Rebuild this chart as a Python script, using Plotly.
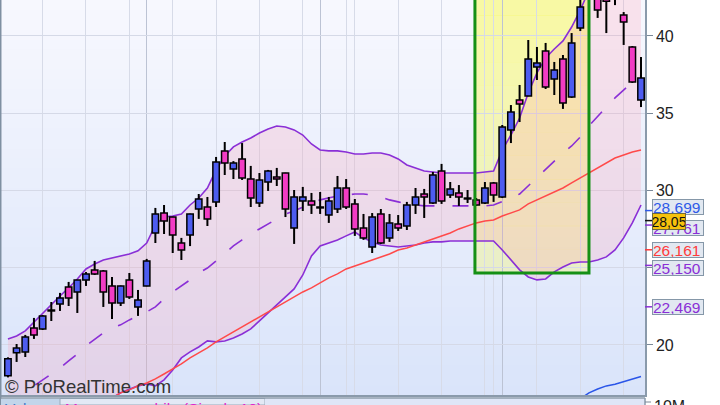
import plotly.graph_objects as go

# ---------------- data ----------------
idx = list(range(74))

opens = [18.0, 19.5, 19.55, 21.1, 21.04, 22.2, 22.65, 23.75, 23.43, 24.2,
         24.85, 24.79, 23.82, 22.72, 24.2, 22.46, 23.82, 27.25, 28.54, 28.28,
         26.6, 27.12, 28.8, 28.93, 29.26, 32.56, 31.39, 32.04, 30.74, 29.19,
         30.55, 30.87, 31.13, 27.57, 29.32, 29.32, 28.87, 28.41, 28.8, 30.16,
         29.13, 27.57, 26.34, 28.48, 26.93, 27.83, 27.7, 29.06, 29.77, 29.19,
         31.26, 29.71, 29.84, 29.45, 29.39, 29.19, 30.49, 29.58, 33.92, 35.86,
         36.12, 37.99, 39.03, 37.22, 38.51, 36.05, 40.52, 42.5, 42.9, 42.9,
         42.7, 41.36, 39.29, 35.86]
highs = [19.2, 20.06, 20.65, 21.75, 21.94, 22.78, 23.37, 24.08, 24.2, 24.72,
         25.44, 24.85, 24.4, 23.85, 24.66, 23.56, 25.57, 28.87, 29.06, 28.3,
         26.93, 28.5, 29.77, 29.58, 32.17, 33.14, 31.9, 33.07, 31.59, 31.13,
         31.33, 31.46, 31.15, 30.03, 30.23, 29.84, 29.9, 29.58, 30.94, 30.74,
         29.45, 28.48, 28.54, 28.8, 28.48, 28.41, 29.26, 30.16, 30.1, 31.2,
         31.72, 30.55, 30.35, 30.03, 29.51, 30.55, 30.55, 34.24, 35.53, 36.83,
         39.74, 39.29, 39.55, 38.32, 38.77, 40.19, 42.6, 43.8, 43.5, 43.4,
         43.3, 41.55, 39.35, 38.64]
lows = [17.9, 18.9, 19.22, 20.39, 20.97, 21.55, 22.2, 22.52, 22.07, 23.82,
        24.53, 22.46, 21.68, 22.52, 22.98, 21.88, 23.8, 26.6, 27.18, 25.95,
        25.5, 26.4, 28.16, 27.7, 28.93, 31.0, 30.74, 30.68, 28.93, 28.93,
        29.97, 30.29, 28.28, 26.54, 28.67, 28.48, 28.48, 27.9, 28.54, 28.8,
        27.06, 26.8, 25.95, 26.54, 26.67, 27.38, 27.44, 28.48, 28.22, 29.13,
        29.13, 29.51, 29.0, 29.19, 29.0, 29.13, 29.26, 29.51, 33.07, 34.43,
        36.1, 37.15, 36.57, 36.18, 35.28, 35.99, 40.32, 41.9, 41.17, 40.19,
        42.0, 39.42, 36.96, 35.4]
closes = [19.1, 19.8, 20.52, 20.65, 21.88, 22.22, 23.04, 23.04, 24.2, 24.6,
          24.6, 23.43, 22.72, 23.82, 23.1, 22.91, 25.44, 28.48, 28.03, 27.12,
          26.15, 28.48, 29.45, 28.16, 31.84, 31.78, 31.78, 30.81, 29.51, 30.68,
          31.26, 30.74, 28.8, 29.58, 29.58, 29.06, 28.89, 29.32, 30.16, 28.93,
          27.51, 26.93, 28.28, 26.6, 27.9, 27.57, 29.06, 29.58, 29.58, 31.0,
          29.32, 30.1, 29.58, 29.47, 29.06, 30.16, 29.71, 34.11, 35.08, 35.6,
          38.51, 38.25, 36.7, 37.8, 35.66, 39.55, 41.88, 43.4, 41.68, 42.25,
          43.2, 40.9, 37.02, 37.28]

bb_upper = [20.39, 20.58, 20.91, 21.49, 22.01, 22.59, 23.17, 23.69, 24.27, 24.92,
            25.24, 25.50, 25.63, 25.76, 25.89, 26.09, 26.60, 27.77, 28.29, 28.35,
            28.48, 29.06, 29.51, 30.16, 31.33, 32.23, 32.82, 33.14, 33.40, 33.72,
            33.98, 34.17, 34.11, 33.92, 33.59, 33.01, 32.62, 32.56, 32.56, 32.49,
            32.36, 32.36, 32.43, 32.43, 32.30, 32.04, 31.65, 31.46, 31.26, 31.20,
            31.13, 31.13, 31.13, 31.13, 31.13, 31.20, 31.26, 32.62, 33.59, 34.69,
            36.31, 37.61, 38.58, 39.16, 39.68, 40.58, 41.68, 42.98, 44.01, 45.11,
            45.82, 46.08, 46.15, 45.76]
bb_mid = [16.12, 16.51, 16.96, 17.35, 17.74, 18.12, 18.51, 18.97, 19.42, 19.94,
          20.39, 20.78, 21.10, 21.30, 21.62, 21.88, 22.14, 22.46, 22.98, 23.43,
          23.82, 24.21, 24.66, 24.98, 25.44, 25.95, 26.41, 26.80, 27.19, 27.51,
          27.83, 28.16, 28.48, 28.67, 28.93, 29.19, 29.39, 29.51, 29.64, 29.71,
          29.77, 29.77, 29.71, 29.58, 29.39, 29.26, 29.13, 29.06, 29.00, 29.00,
          29.00, 29.00, 29.00, 29.00, 29.00, 29.00, 29.06, 29.26, 29.51, 29.77,
          30.29, 30.87, 31.33, 31.91, 32.43, 32.88, 33.46, 34.18, 34.76, 35.40,
          35.99, 36.51, 37.02, 37.41]
bb_lower = [11.85, 12.43, 13.01, 13.21, 13.46, 13.66, 13.85, 14.24, 14.57, 14.95,
            15.54, 16.05, 16.57, 16.90, 17.15, 17.35, 17.48, 17.35, 17.74, 18.38,
            19.16, 19.55, 19.87, 20.26, 20.20, 20.26, 20.45, 20.71, 21.04, 21.55,
            22.07, 22.59, 23.11, 23.63, 24.53, 25.76, 26.41, 26.60, 26.80, 27.06,
            27.31, 26.93, 26.67, 26.47, 26.41, 26.34, 26.41, 26.47, 26.60, 26.67,
            26.67, 26.73, 26.73, 26.73, 26.73, 26.73, 26.73, 26.15, 25.50, 24.86,
            24.40, 24.21, 24.27, 24.73, 25.05, 25.31, 25.37, 25.37, 25.50, 25.70,
            26.15, 26.93, 27.90, 29.06]
ma_red = [None] * 12 + [
    16.55, 16.90, 17.09, 17.35, 17.54, 17.80, 18.12, 18.45,
    18.77, 19.16, 19.49, 19.81, 20.20, 20.52, 20.84, 21.17, 21.49, 21.81,
    22.14, 22.46, 22.78, 23.11, 23.43, 23.69, 24.01, 24.34, 24.60, 24.92,
    25.11, 25.31, 25.50, 25.70, 25.89, 26.15, 26.28, 26.47, 26.67, 26.86,
    27.06, 27.25, 27.51, 27.70, 27.90, 28.03, 28.09, 28.35, 28.54, 28.74,
    29.13, 29.39, 29.64, 29.90, 30.16, 30.49, 30.81, 31.13, 31.46, 31.78,
    32.10, 32.30, 32.49, 32.62]
ma_blue = [None] * 66 + [16.51, 16.90, 17.15, 17.35, 17.45, 17.61, 17.80, 17.96]

week_grid = [4, 9, 14, 19, 24, 29, 34, 39, 40, 45, 50, 55, 56, 61, 66, 71]
month_grid = [16, 36, 57]
price_ticks = [20, 25, 30, 35, 40]

zone_start, zone_end, zone_low = 53.85, 67.0, 24.66

label_values = [22.469, 25.150, 26.161, 27.761, 28.699, 28.05]
label_texts = ["22,469", "25,150", "26,161", "27,761", "28,699", "28,05"]
label_colors = ["#8a2fd6", "#8a2fd6", "#ff3b3b", "#8a2fd6", "#2f5ae8", "#111111"]
label_shift = [0, -3, 0, -3, 4, -1]

# ---------------- styles ----------------
FONT = "Liberation Sans, Arial, sans-serif"
BLUE_BODY = "#4d5cf0"
PINK_BODY = "#f23cc4"
PURPLE = "#8a2fd6"
X_RANGE = [-0.8, 73.46]
Y_RANGE = [16.76, 42.33]
PLOT_W, PLOT_H = 644, 395

fig = go.Figure()

# Bollinger bands + averages (base subplot, under the candles)
fig.add_trace(go.Scatter(x=idx, y=bb_lower, mode="lines",
                         line=dict(color=PURPLE, width=1.6), hoverinfo="skip"))
fig.add_trace(go.Scatter(x=idx, y=bb_upper, mode="lines",
                         line=dict(color=PURPLE, width=1.6), fill="tonexty",
                         fillcolor="rgba(255,150,175,0.22)", hoverinfo="skip"))
fig.add_trace(go.Scatter(x=idx, y=bb_mid, mode="lines",
                         line=dict(color=PURPLE, width=1.6, dash="16px,18px"),
                         hoverinfo="skip"))
fig.add_trace(go.Scatter(x=idx, y=ma_red, mode="lines",
                         line=dict(color="#ff4a4a", width=1.5), hoverinfo="skip"))
fig.add_trace(go.Scatter(x=idx, y=ma_blue, mode="lines",
                         line=dict(color="#2a55e8", width=1.5), hoverinfo="skip"))

# Candles (overlay subplot, drawn above the indicator lines)
body_base = [min(o, c) for o, c in zip(opens, closes)]
body_h = [max(abs(c - o), 0.06) for o, c in zip(opens, closes)]
body_col = [BLUE_BODY if c > o + 0.03 else (PINK_BODY if c < o - 0.03 else "black")
            for o, c in zip(opens, closes)]
wick_x, wick_y = [], []
for i, o, h, l, c in zip(idx, opens, highs, lows, closes):
    wick_x += [i, i, None, i, i, None]
    wick_y += [h, max(o, c), None, min(o, c), l, None]

fig.add_trace(go.Scatter(x=wick_x, y=wick_y, mode="lines",
                         line=dict(color="black", width=2),
                         xaxis="x2", yaxis="y2", hoverinfo="skip"))
fig.add_trace(go.Bar(x=idx, y=body_h, base=body_base, width=0.74,
                     marker=dict(color=body_col, line=dict(color="black", width=1.5)),
                     xaxis="x2", yaxis="y2", hoverinfo="skip"))

shapes = []
# background vertical gradient
n = 40
top_c, bot_c = (247, 248, 254), (218, 228, 250)
for k in range(n):
    t = k / (n - 1)
    col = tuple(round(bot_c[j] + (top_c[j] - bot_c[j]) * t) for j in range(3))
    shapes.append(dict(type="rect", xref="paper", yref="paper", x0=0, x1=1,
                       y0=k / n, y1=(k + 1) / n + 0.002, layer="below",
                       line=dict(width=0), fillcolor="rgb(%d,%d,%d)" % col))
# highlighted zone: yellow gradient fill
m = 12
zone_top = Y_RANGE[1] + 0.5
for k in range(m):
    y0 = zone_low + (zone_top - zone_low) * k / m
    y1 = zone_low + (zone_top - zone_low) * (k + 1) / m + 0.02
    a = 0.30 + 0.22 * k / (m - 1)
    shapes.append(dict(type="rect", xref="x", yref="y", x0=zone_start, x1=zone_end,
                       y0=y0, y1=y1, layer="below", line=dict(width=0),
                       fillcolor="rgba(250,250,80,%.3f)" % a))
shapes.append(dict(type="rect", xref="x", yref="y", x0=zone_start, x1=zone_end,
                   y0=zone_low, y1=zone_top + 1, layer="above",
                   line=dict(color="#159015", width=3), fillcolor="rgba(0,0,0,0)"))
# left border
shapes.append(dict(type="line", xref="paper", yref="paper", x0=-0.0008, x1=-0.0008,
                   y0=-0.03, y1=1, line=dict(color="#7f90a2", width=2), layer="above"))
# bottom (volume panel) strip
py = lambda px: (PLOT_H - px) / PLOT_H
pxx = lambda px: (px - 1) / PLOT_W
shapes.append(dict(type="rect", xref="paper", yref="paper", x0=0, x1=pxx(60),
                   y0=py(405), y1=py(398.5), line=dict(width=0), fillcolor="#c3d5ea"))
shapes.append(dict(type="rect", xref="paper", yref="paper", x0=pxx(60), x1=pxx(265),
                   y0=py(405), y1=py(398.5), line=dict(color="#9aaabb", width=1),
                   fillcolor="#e3e9f5"))
shapes.append(dict(type="rect", xref="paper", yref="paper", x0=pxx(265), x1=1,
                   y0=py(405), y1=py(398.5), line=dict(width=0), fillcolor="#dfe6f7"))
shapes.append(dict(type="line", xref="paper", yref="paper", x0=0, x1=1,
                   y0=py(398), y1=py(398), line=dict(color="#8a9aab", width=1.5)))
shapes.append(dict(type="line", xref="paper", yref="paper", x0=1, x1=1,
                   y0=py(405), y1=py(398), line=dict(color="#8a9aab", width=1.5)))
shapes.append(dict(type="line", xref="paper", yref="paper", x0=1, x1=1 + 6 / PLOT_W,
                   y0=py(402), y1=py(402), line=dict(color="#7a8898", width=1)))
# coloured ticks next to the value labels
for v, c in zip(label_values, label_colors):
    shapes.append(dict(type="line", xref="paper", yref="y", x0=1, x1=1 + 7 / PLOT_W,
                       y0=v, y1=v, line=dict(color=c, width=1.5), layer="above"))

annotations = []
for v, t, c, s in zip(label_values, label_texts, label_colors, label_shift):
    if t == "28,05":
        annotations.append(dict(x=1, xref="paper", xshift=7, xanchor="left",
                                y=v, yref="y", yshift=s, yanchor="middle",
                                text=t, showarrow=False, width=32, height=15,
                                bgcolor="#f6c20c", bordercolor="#6f6a40",
                                borderwidth=1, borderpad=0,
                                font=dict(family=FONT, size=14, color="#111")))
    else:
        annotations.append(dict(x=1, xref="paper", xshift=7, xanchor="left",
                                y=v, yref="y", yshift=s, yanchor="middle",
                                text=t, showarrow=False, width=50, height=14,
                                align="left", bgcolor="#e2e8f1",
                                bordercolor="#8597a8", borderwidth=1, borderpad=0,
                                font=dict(family=FONT, size=15.5, color=c)))
annotations.append(dict(x=pxx(3), xref="paper", xanchor="left", y=py(386),
                        yref="paper", yanchor="middle", text="© ProRealTime.com",
                        showarrow=False,
                        font=dict(family="Liberation Sans Narrow, Arial Narrow, " + FONT,
                                  size=18.5, color="#333333")))
annotations.append(dict(x=pxx(3), xref="paper", xanchor="left", y=py(397.5),
                        yref="paper", yanchor="top", text="Volume", showarrow=False,
                        font=dict(family=FONT, size=15.5, color="#3f78c6")))
annotations.append(dict(x=pxx(63), xref="paper", xanchor="left", y=py(397.5),
                        yref="paper", yanchor="top",
                        text="Moyenne mobile (Simple,10)", showarrow=False,
                        font=dict(family=FONT, size=15.5, color="#e024cc")))
annotations.append(dict(x=1, xref="paper", xshift=7, xanchor="left", y=py(396),
                        yref="paper", yanchor="top", text="10M", showarrow=False,
                        font=dict(family=FONT, size=16, color="#222")))

fig.update_layout(
    width=720, height=405,
    margin=dict(l=1, r=75, t=0, b=10),
    paper_bgcolor="white", plot_bgcolor="#eef1fc",
    showlegend=False, barmode="overlay",
    xaxis=dict(range=X_RANGE, showticklabels=False, tickvals=month_grid, ticks="",
               showgrid=True, gridcolor="#bcc3d4", gridwidth=1,
               minor=dict(tickvals=week_grid, showgrid=True, gridcolor="#d7dbe8",
                          gridwidth=1, ticks=""),
               zeroline=False, showline=True, linecolor="#8a9aab", linewidth=1.5,
               fixedrange=True),
    yaxis=dict(range=Y_RANGE, side="right", tickvals=price_ticks,
               ticktext=[str(v) for v in price_ticks], ticks="outside", ticklen=6,
               tickcolor="#7a8898", tickwidth=1, showgrid=True, gridcolor="#d5d9e7",
               zeroline=False, showline=True, linecolor="#8a9aab", linewidth=1.5,
               tickfont=dict(family=FONT, size=16, color="#222"), fixedrange=True),
    xaxis2=dict(overlaying="x", range=X_RANGE, visible=False, fixedrange=True),
    yaxis2=dict(overlaying="y", range=Y_RANGE, visible=False, fixedrange=True),
    shapes=shapes,
    annotations=annotations,
)

fig.write_html("out.html",
               config={"displayModeBar": False},
               post_script="document.body.style.margin='0px';"
                           "document.body.style.overflow='hidden';")
